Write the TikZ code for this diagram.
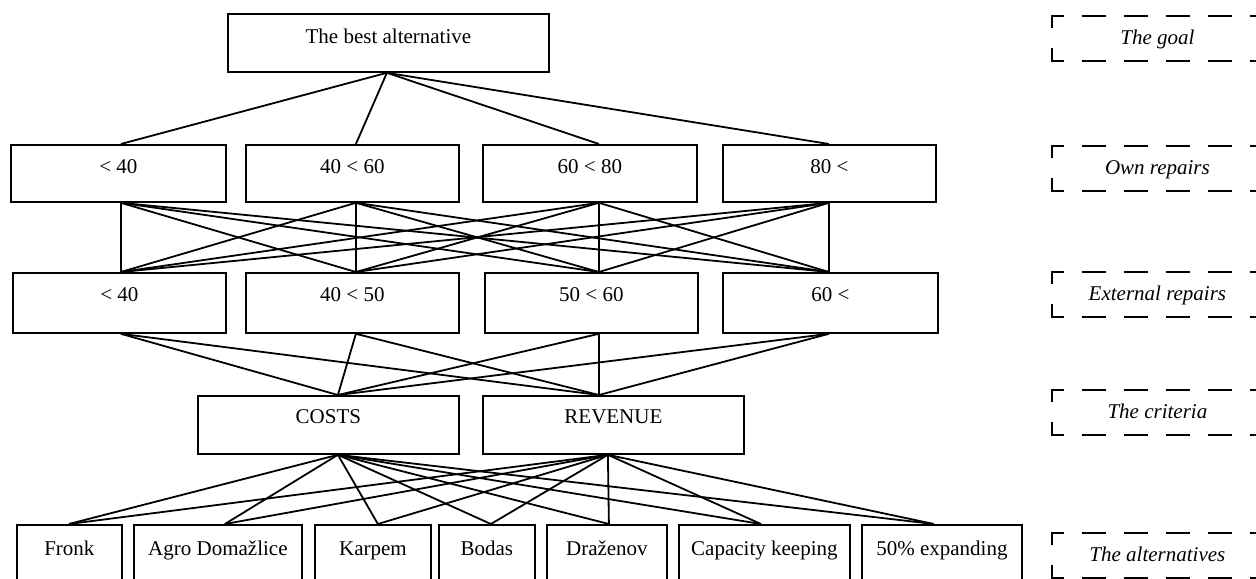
\documentclass[tikz,border=0pt]{standalone}
\usepackage{fontspec}
\setmainfont{Liberation Serif}
\tikzset{
  box/.style={draw, line width=0.9pt, inner sep=0pt, anchor=north west,
    text height=14.5pt, text depth=14.5pt, font=\fontsize{10.5}{12}\selectfont},
  layer/.style={inner sep=0pt, anchor=north west, minimum width=105pt,
    text height=14pt, text depth=8pt, font=\fontsize{10.5}{12}\selectfont\itshape},
  frame/.style={line width=0.9pt, dash pattern=on 12pt off 9pt, dash phase=16pt},
  link/.style={line width=0.9pt}
}

\begin{document}
\begin{tikzpicture}[x=0.5pt, y=-0.5pt]
\useasboundingbox (0,0) rectangle (1256,578);
\clip (0,0) rectangle (1256,578);
\node[box, minimum width=160.5pt, text height=15pt, text depth=14pt] (goal) at (227,13) {The best alternative};
\node[box, minimum width=107.5pt, text depth=14pt] (o1) at (10,144) {< 40};
\node[box, minimum width=106.5pt, text depth=14pt] (o2) at (245,144) {40 < 60};
\node[box, minimum width=107pt, text depth=14pt] (o3) at (482,144) {60 < 80};
\node[box, minimum width=106.5pt, text depth=14pt] (o4) at (722,144) {80 <};
\node[box, minimum width=106.5pt, text depth=15.5pt] (e1) at (12,272) {< 40};
\node[box, minimum width=106.5pt, text depth=15.5pt] (e2) at (245,272) {40 < 50};
\node[box, minimum width=106.5pt, text depth=15.5pt] (e3) at (484,272) {50 < 60};
\node[box, minimum width=107.5pt, text depth=15.5pt] (e4) at (722,272) {60 <};
\node[box, minimum width=130.5pt, text height=14pt, text depth=15pt] (cost) at (197,395) {COSTS};
\node[box, minimum width=130.5pt, text height=14pt, text depth=15pt] (rev) at (482,395) {REVENUE};
\node[box, minimum width=52.5pt, text height=15.5pt, text depth=20pt] (a1) at (16,524) {Fronk};
\node[box, minimum width=84pt, text height=15.5pt, text depth=20pt] (a2) at (133,524) {Agro Domažlice};
\node[box, minimum width=58pt, text height=15.5pt, text depth=20pt] (a3) at (314,524) {Karpem};
\node[box, minimum width=48pt, text height=15.5pt, text depth=20pt] (a4) at (438,524) {Bodas};
\node[box, minimum width=60pt, text height=15.5pt, text depth=20pt] (a5) at (546,524) {Draženov};
\node[box, minimum width=85.5pt, text height=15.5pt, text depth=20pt] (a6) at (678,524) {Capacity keeping};
\node[box, minimum width=80pt, text height=15.5pt, text depth=20pt] (a7) at (861,524) {50\% expanding};
\foreach \n/\t/\b in {goal/0/-0.75, o1/1.25/1.25, o2/1.75/1.75, o3/4.5/4.5, o4/-0.25/-0.25,
  e1/0.75/0.75, e2/1.75/1.75, e3/3.75/3.75, e4/-0.75/-0.75, cost/4.75/4.75, rev/-7.25/-2.75,
  a1/-0.25/0, a2/3.5/0, a3/2.5/0, a4/2/0, a5/1/0, a6/-1.75/0, a7/-4/0}
{
\coordinate (\n-t) at ([xshift=\t pt]\n.north);
\coordinate (\n-b) at ([xshift=\b pt]\n.south);
}
\foreach \v in {o1,o2,o3,o4}
\draw[link] (goal-b) -- (\v-t);
\foreach \u in {o1,o2,o3,o4}
\foreach \v in {e1,e2,e3,e4}
\draw[link] (\u-b) -- (\v-t);
\foreach \u in {e1,e2,e3,e4}
\foreach \v in {cost,rev}
\draw[link] (\u-b) -- (\v-t);
\foreach \u in {cost,rev}
\foreach \v in {a1,a2,a3,a4,a5,a6,a7}
\draw[link] (\u-b) -- (\v-t);
\node[layer] (lgoal) at (1052,16) {The goal};
\node[layer] (lown) at (1052,146) {Own repairs};
\node[layer] (lext) at (1052,272) {External repairs};
\node[layer] (lcrit) at (1052,390) {The criteria};
\node[layer] (lalt) at (1052,533) {The alternatives};
\foreach \l in {lgoal,lown,lext,lcrit,lalt}
{
\draw[frame] (\l.west) |- (\l.north east);
\draw[frame] (\l.west) |- (\l.south east);
}
\end{tikzpicture}
\end{document}
